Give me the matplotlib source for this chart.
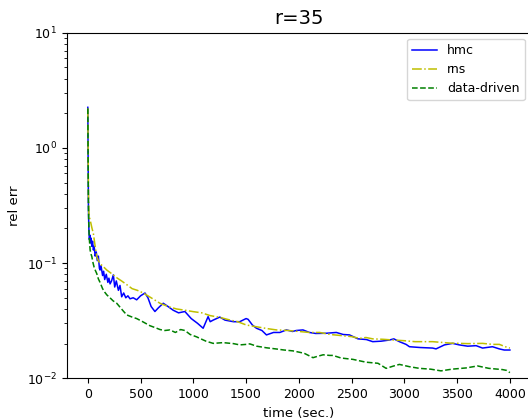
import matplotlib
matplotlib.use("Agg")
import matplotlib.pyplot as plt

hmc_t = [0, 3, 6, 10, 15, 20, 25, 30, 38, 45, 53, 60, 70, 80, 90, 100, 110, 116, 125, 140,
         150, 160, 175, 190, 200, 211, 225, 242, 255, 270, 290, 305, 321, 340, 360, 380, 400,
         430, 463, 500, 542, 570, 600, 636, 670, 715, 760, 809, 860, 920, 980, 1040, 1093,
         1140, 1160, 1188, 1251, 1300, 1380, 1440, 1500, 1519, 1560, 1598, 1650, 1693, 1760,
         1820, 1882, 1940, 1976, 2039, 2100, 2160, 2260, 2355, 2420, 2480, 2560, 2640, 2700,
         2780, 2860, 2900, 2953, 3016, 3048, 3150, 3268, 3300, 3380, 3457, 3520, 3600, 3680,
         3741, 3835, 3900, 3946, 4000]
hmc_v = [2.25, 0.8, 0.3, 0.2, 0.16, 0.175, 0.15, 0.165, 0.14, 0.155, 0.13, 0.14, 0.115, 0.125,
         0.105, 0.115, 0.09, 0.087, 0.095, 0.078, 0.085, 0.072, 0.08, 0.068, 0.074, 0.066,
         0.07, 0.079, 0.062, 0.07, 0.058, 0.064, 0.051, 0.055, 0.05, 0.052, 0.049, 0.05, 0.048,
         0.052, 0.055, 0.05, 0.042, 0.038, 0.041, 0.0448, 0.042, 0.039, 0.037, 0.038, 0.033,
         0.03, 0.0272, 0.0343, 0.031, 0.032, 0.034, 0.032, 0.031, 0.031, 0.033, 0.0325, 0.029,
         0.0272, 0.026, 0.0238, 0.025, 0.025, 0.0263, 0.0255, 0.026, 0.0263, 0.025, 0.0245,
         0.0246, 0.025, 0.024, 0.0238, 0.022, 0.0217, 0.0208, 0.021, 0.0215, 0.022, 0.0208,
         0.0197, 0.0188, 0.0185, 0.0183, 0.018, 0.0195, 0.0201, 0.0195, 0.019, 0.0192, 0.0183,
         0.0188, 0.018, 0.0176, 0.0176]

rns_t = [0, 3, 6, 10, 15, 22, 30, 40, 53, 65, 75, 85, 100, 120, 148, 180, 210, 242, 280, 320,
         369, 420, 470, 526, 600, 684, 760, 840, 920, 999, 1080, 1160, 1251, 1350, 1420, 1503,
         1600, 1700, 1787, 1900, 2000, 2100, 2197, 2300, 2400, 2500, 2575, 2636, 2700, 2800,
         2890, 3000, 3100, 3205, 3268, 3350, 3440, 3520, 3600, 3741, 3835, 3900, 3977, 4000]
rns_v = [2.2, 1.0, 0.4, 0.27, 0.25, 0.237, 0.22, 0.2, 0.18, 0.15, 0.13, 0.114, 0.105, 0.098,
         0.093, 0.087, 0.083, 0.079, 0.074, 0.07, 0.065, 0.06, 0.058, 0.055, 0.05, 0.0448, 0.042,
         0.04, 0.039, 0.0379, 0.037, 0.035, 0.0338, 0.032, 0.031, 0.029, 0.028, 0.027, 0.0263,
         0.026, 0.0255, 0.025, 0.025, 0.024, 0.0235, 0.023, 0.0222, 0.0226, 0.022, 0.0218,
         0.0215, 0.0212, 0.0208, 0.0208, 0.0208, 0.0205, 0.0202, 0.0201, 0.02, 0.0201, 0.0197,
         0.0197, 0.0185, 0.0183]

dd_t = [0, 3, 6, 10, 15, 22, 30, 38, 50, 60, 70, 85, 100, 116, 140, 160, 180, 210, 240, 274,
        300, 340, 369, 420, 463, 520, 589, 640, 684, 730, 778, 830, 880, 920, 970, 1031, 1062,
        1120, 1188, 1282, 1380, 1440, 1503, 1535, 1600, 1693, 1780, 1860, 1944, 2050, 2134,
        2165, 2230, 2292, 2323, 2400, 2512, 2636, 2750, 2827, 2900, 2953, 3050, 3142, 3250,
        3347, 3450, 3584, 3694, 3800, 3930, 3970, 4000]
dd_v = [2.2, 0.8, 0.3, 0.2, 0.16, 0.13, 0.12, 0.114, 0.1, 0.092, 0.087, 0.081, 0.073, 0.068,
        0.06, 0.056, 0.053, 0.05, 0.047, 0.0448, 0.042, 0.038, 0.0355, 0.034, 0.033, 0.031,
        0.0286, 0.0275, 0.0265, 0.026, 0.0263, 0.025, 0.0265, 0.026, 0.024, 0.0229, 0.0222,
        0.021, 0.0201, 0.0204, 0.02, 0.0195, 0.0197, 0.0199, 0.019, 0.0184, 0.018, 0.0176,
        0.0173, 0.0165, 0.0151, 0.0154, 0.016, 0.0158, 0.0158, 0.015, 0.0146, 0.0138, 0.0135,
        0.0122, 0.0128, 0.0132, 0.0126, 0.0122, 0.012, 0.0116, 0.012, 0.0123, 0.0128, 0.0122,
        0.0119, 0.0117, 0.0112]

fig = plt.figure(figsize=(5.28, 4.2), dpi=100)
ax = fig.add_axes([66.7 / 528, 41.7 / 420, 464.3 / 528, 345.6 / 420])
ax.plot(hmc_t, hmc_v, 'b-', lw=1.1, label='hmc')
ax.plot(rns_t, rns_v, 'y-.', lw=1.1, label='rns')
ax.plot(dd_t, dd_v, 'g--', lw=1.1, label='data-driven')
ax.set_yscale('log')
ax.set_ylim(0.01, 10)
ax.set_xlim(-200, 4200)
ax.set_xticks([0, 500, 1000, 1500, 2000, 2500, 3000, 3500, 4000])
ax.spines['right'].set_visible(False)
ax.tick_params(labelsize=9)
ax.set_xlabel('time (sec.)', fontsize=9.5)
ax.set_ylabel('rel err', fontsize=9.5)
ax.set_title('r=35', fontsize=14)
ax.legend(loc='upper right', fontsize=9)
fig.savefig('out.png', dpi=100)
